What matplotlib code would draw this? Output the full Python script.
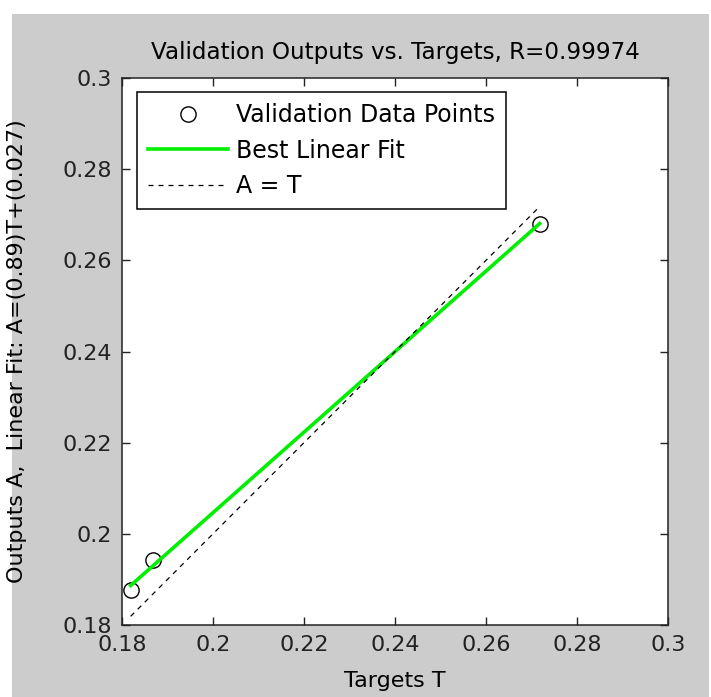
import numpy as np
import matplotlib
matplotlib.use("Agg")
import matplotlib.pyplot as plt
from matplotlib.patches import Rectangle

# validation targets / outputs
targets = [0.1819, 0.1869, 0.2718]
outputs = [0.1876, 0.1942, 0.2680]
fit_slope, fit_icpt = 0.89, 0.027   # as printed on the y label

xticks = [0.18, 0.2, 0.22, 0.24, 0.26, 0.28, 0.3]
yticks = [0.18, 0.2, 0.22, 0.24, 0.26, 0.28, 0.3]
tick_lbls = ["0.18", "0.2", "0.22", "0.24", "0.26", "0.28", "0.3"]

title = "Validation Outputs vs. Targets, R=0.99974"
xlab = "Targets T"
ylab = "Outputs A,  Linear Fit: A=(%.2g)T+(%.2g)" % (fit_slope, fit_icpt)

plt.rcParams["font.family"] = "DejaVu Sans"
FS = 16

W, H = 711, 697
fig = plt.figure(figsize=(W / 100, H / 100), dpi=100, facecolor="white")
# matlab grey window area (white strip at left/top/right)
fig.patches.append(Rectangle((12 / W, 0), (709 - 12) / W, (H - 14) / H,
                             transform=fig.transFigure, facecolor="#cccccc",
                             edgecolor="none", zorder=-10))

ax = fig.add_axes([122 / W, (H - 625) / H, 546 / W, 547 / H])
ax.set_facecolor("white")

t = np.array(targets)
m, b = np.polyfit(t, np.array(outputs), 1)
lo, hi = t.min(), t.max()
ax.plot(targets, outputs, linestyle="none", marker="o", ms=11, mfc="none",
        mec="black", mew=1.0, label="Validation Data Points")
ax.plot([lo, hi], [lo * m + b, hi * m + b],
        color="#00ee00", lw=2.6, label="Best Linear Fit")
ax.plot([lo, hi], [lo, hi], color="black", lw=0.9, linestyle=(0, (4, 4)),
        label="A = T")

ax.set_xlim(0.18, 0.3)
ax.set_ylim(0.18, 0.3)
ax.set_xticks(xticks)
ax.set_xticklabels(tick_lbls)
ax.set_yticks(yticks)
ax.set_yticklabels(tick_lbls)
ax.tick_params(direction="in", length=6, width=1, labelsize=FS, pad=7,
               top=True, right=True, colors="#222222")
for s in ax.spines.values():
    s.set_linewidth(1.1)
    s.set_color("#222222")

ax.set_title(title, fontsize=16.6, pad=14)
ax.set_xlabel(xlab, fontsize=FS)
ax.set_ylabel(ylab, fontsize=FS)
ax.xaxis.set_label_coords(0.5, -0.084)
ax.yaxis.set_label_coords(-0.174, 0.5)

leg = ax.legend(loc="upper left", bbox_to_anchor=(0.0275, 0.974),
                borderaxespad=0, fontsize=17, fancybox=False, framealpha=1,
                edgecolor="black", handlelength=3.4, handletextpad=0.35,
                labelspacing=0.5, borderpad=0.45)
leg.get_frame().set_linewidth(1.1)

fig.savefig("out.png", dpi=100, facecolor=fig.get_facecolor())
